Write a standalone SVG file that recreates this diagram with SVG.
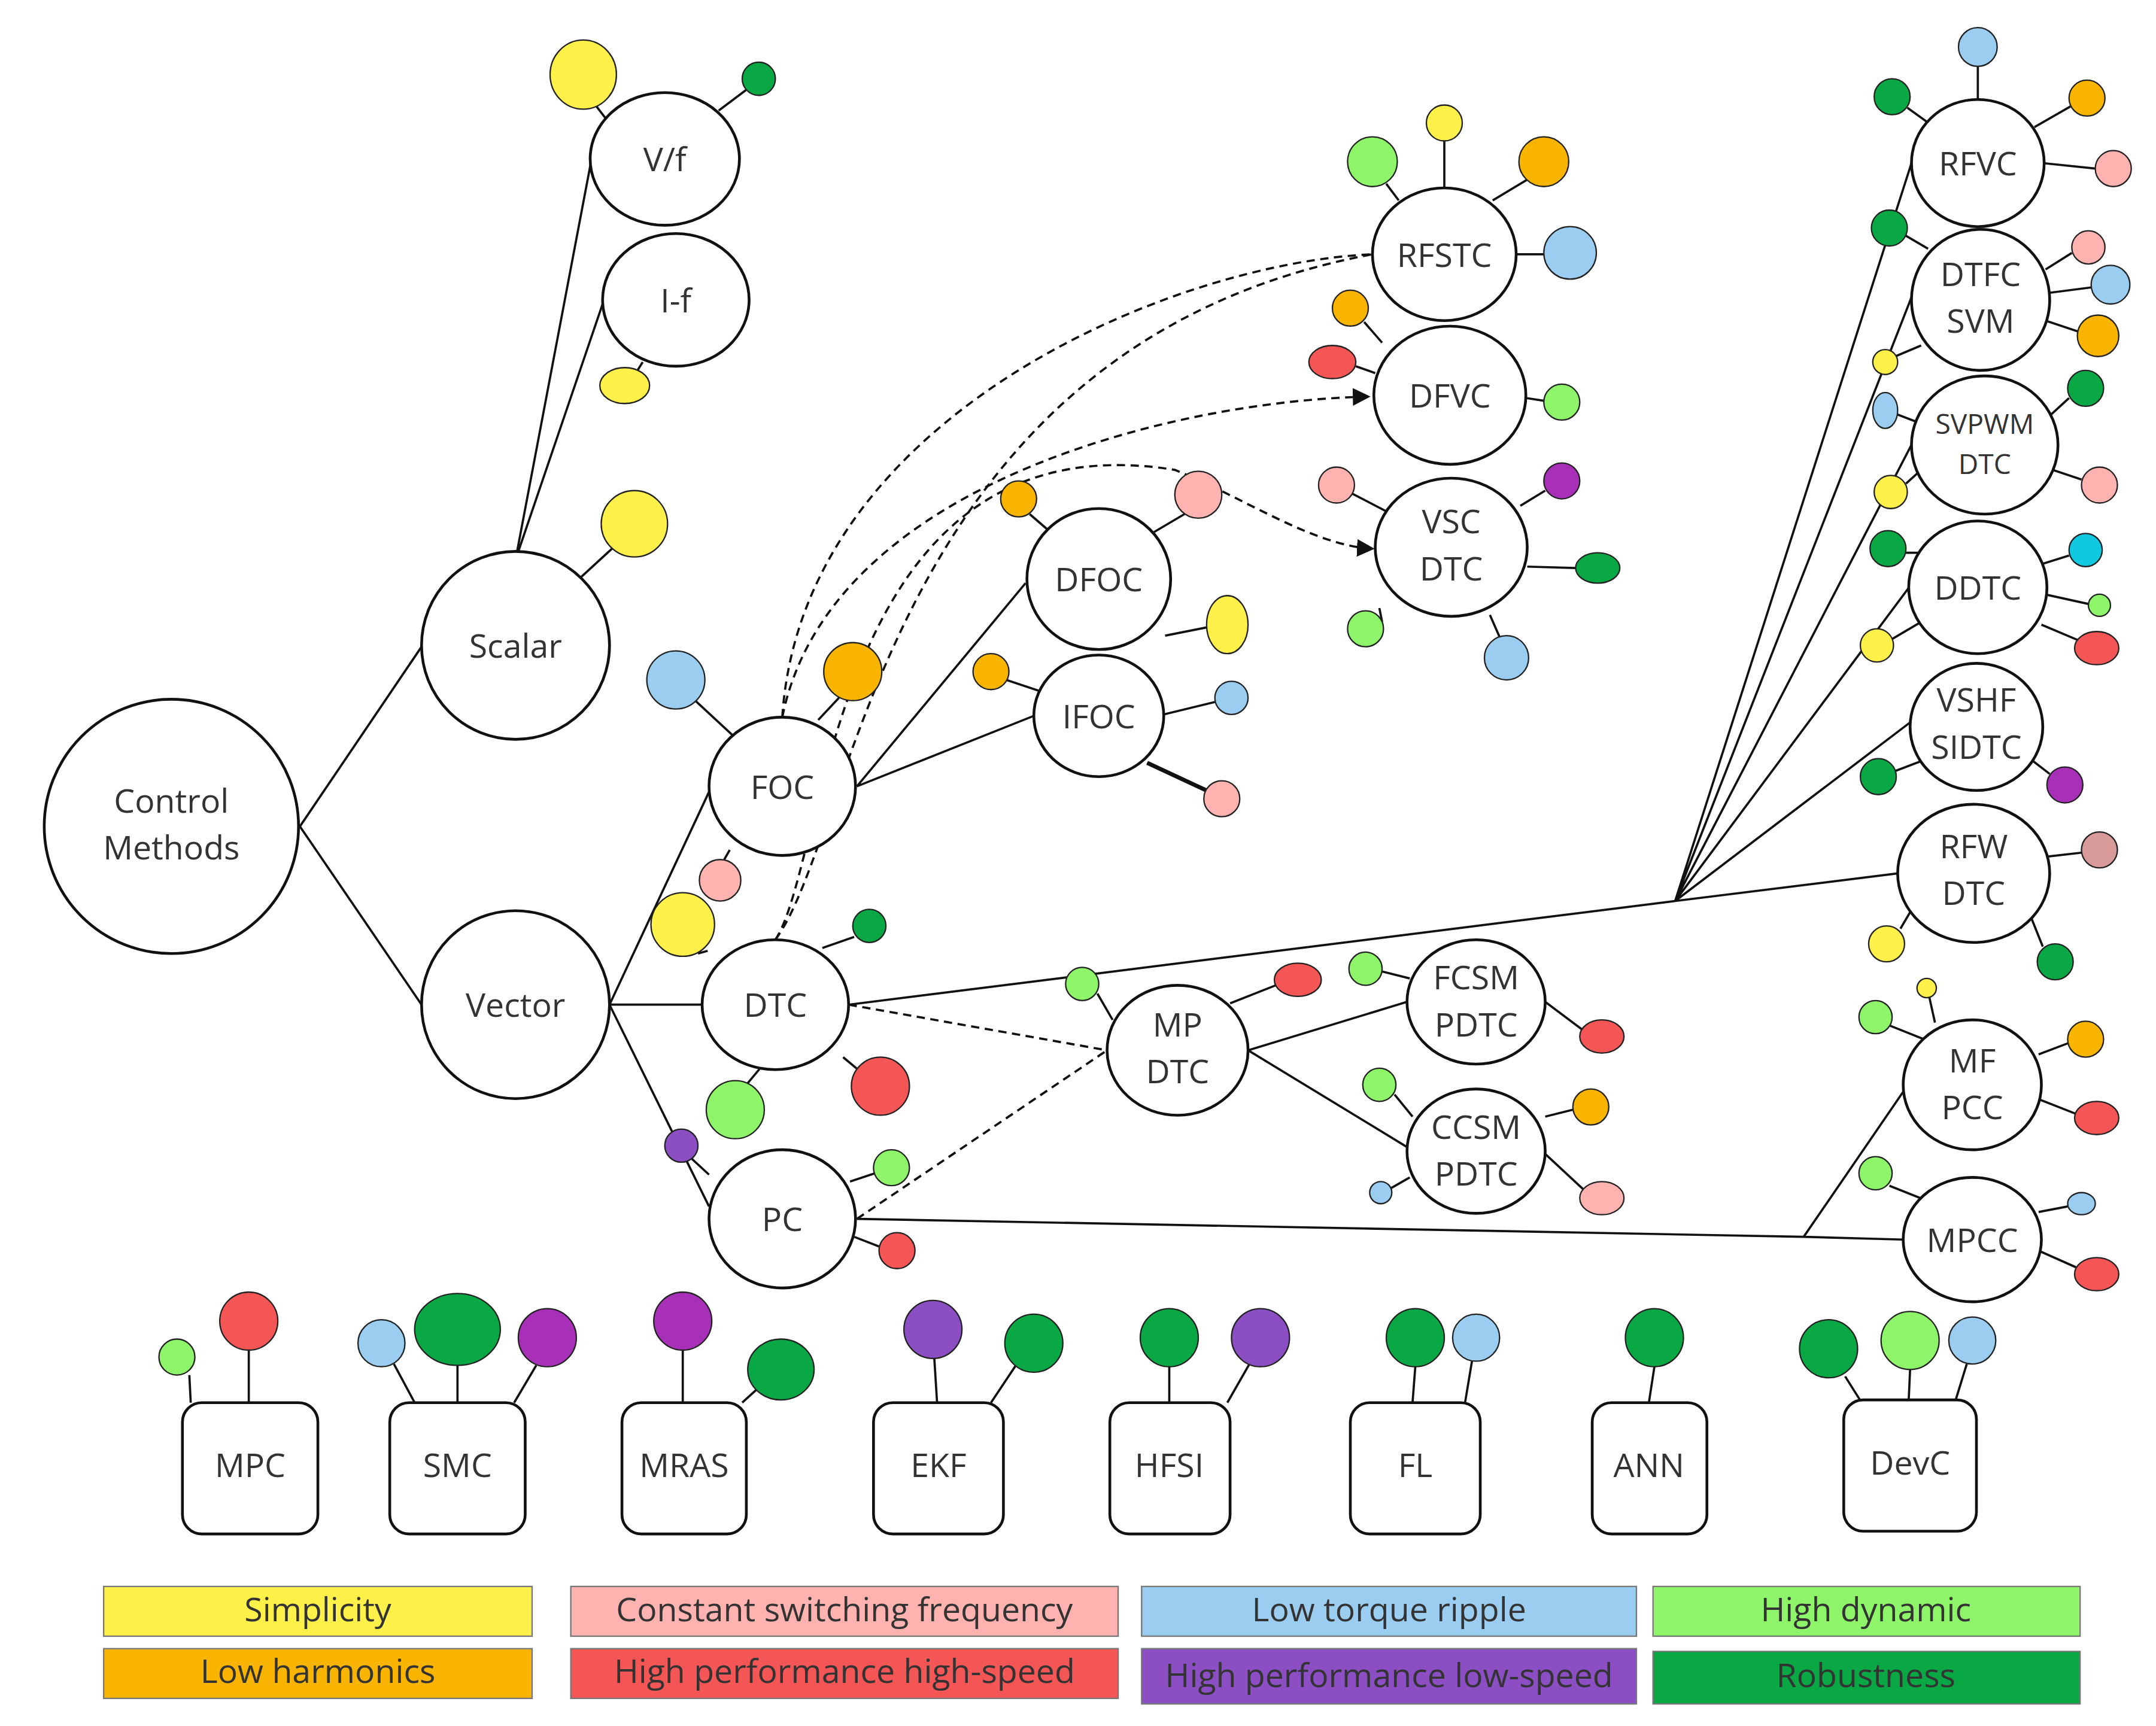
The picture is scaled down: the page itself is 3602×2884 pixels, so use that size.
<svg xmlns="http://www.w3.org/2000/svg" width="3602" height="2884" viewBox="0 0 3602 2884">
<style>
.n{fill:#fff;stroke:#111;stroke-width:2}
.b{fill:#fff;stroke:#111;stroke-width:2}
.l{stroke:#111;stroke-width:1.6;fill:none}
.d{stroke:#111;stroke-width:1.6;fill:none;stroke-dasharray:6 4}
.t{font-family:"Open Sans","Liberation Sans",sans-serif;font-size:24px;fill:#333;text-anchor:middle}
.lg{font-family:"Open Sans","Liberation Sans",sans-serif;font-size:24px;fill:#333;text-anchor:middle}
.c{stroke:#222;stroke-width:1}
.Y{fill:#fff04a}.O{fill:#f9b400}.P{fill:#ffb3b0}.R{fill:#f45555}.B{fill:#9acdf0}.U{fill:#8b4fc3}.G{fill:#8ef56a}.K{fill:#0aa845}.M{fill:#a82fb8}.C{fill:#10c8e0}
</style>
<defs><marker id="a" markerWidth="8" markerHeight="8" refX="7" refY="4" orient="auto"><path d="M0,0L8,4L0,8z" fill="#111"/></marker></defs>
<rect width="3602" height="2884" fill="#fff"/>
<g transform="scale(2.3091)">
<g id="connectors">
<path class="l" d="M217,598L305,468M217,598L305,727M373,405L428,115M373,405L436,220M441,727L513,573M441,727L508,727M441,727L513,873M620,569L742,422M620,569L748,518M614,727L1212,652M1212,652L1383,118M1212,652L1385,210M1212,652L1385,318M1212,652L1385,420M1212,652L1383,522M1212,652L1373,632M903,760L1018,725M903,760L1018,830M620,882L1305,895L1377,897M1305,895L1377,790"/>
<path class="d" d="M614,727L801,760M620,882L801,760"/>
<path class="d" d="M566,519C580,300 850,190 993,184"/>
<path class="d" d="M566,519C600,350 850,290 990,287" marker-end="url(#a)"/>
<path class="d" d="M561,680C620,600 640,250 993,184"/>
<path class="d" d="M561,680C600,620 600,300 850,340C900,360 950,395 993,397" marker-end="url(#a)"/>
<!-- stems -->
<path class="l" d="M440,88L430,75M520,80L540,65M465,262L460,270M420,418L445,395M530,532L503,507M592,521L607,505M528,615L524,622M512,688L505,690M595,686L618,678M610,765L622,775M550,773L540,785M513,850L500,838M615,855L633,849M618,895L636,902M760,385L745,372M835,385L857,372M843,460L873,454M752,500L728,492M842,517L879,508M830,552L873,572M1012,145L1003,133M1045,136L1045,102M1080,145L1105,130M1097,184L1117,184M1000,248L987,233M995,270L981,265M1104,288L1117,290M1003,370L978,357M1100,366L1118,355M1105,410L1140,411M1078,445L1085,461M998,440L1000,450M805,738L794,719M890,726L923,713M1020,708L1000,703M1118,725L1146,746M1022,808L1009,792M1118,808L1138,803M1118,835L1147,862M1020,852L1006,860M1431,72L1431,48M1394,88L1380,78M1472,92L1498,77M1478,118L1516,122M1395,180L1378,170M1480,195L1499,183M1482,212L1513,208M1480,232L1504,240M1390,250L1371,258M1484,300L1497,288M1485,340L1506,347M1390,340L1379,350M1386,305L1373,300M1392,400L1379,400M1478,408L1497,402M1479,430L1511,437M1477,452L1503,463M1390,450L1368,463M1392,550L1371,558M1470,550L1483,560M1480,620L1506,617M1385,655L1375,672M1470,665L1478,685M1392,752L1367,742M1400,740L1396,722M1475,763L1496,755M1474,795L1502,806M1392,868L1367,858M1475,877L1496,873M1475,905L1502,917M137,995L138,1015M180,977L180,1015M285,987L300,1015M331,988L331,1015M388,988L372,1015M494,977L494,1015M548,1005L537,1015M676,983L678,1015M735,988L717,1015M846,989L846,1015M904,987L888,1015M1024,989L1022,1015M1065,985L1060,1015M1197,989L1193,1015M1335,996L1347,1015M1382,991L1381,1013M1423,987L1415,1013"/>
<path d="M830,552L873,572" stroke="#111" stroke-width="3"/>
</g>
<g id="control"><circle class="n" cx="124" cy="598" r="92"/><text class="t" x="124" y="588">Control</text><text class="t" x="124" y="622">Methods</text></g>
<g id="scalar"><circle class="n" cx="373" cy="467" r="68"/><text class="t" x="373" y="476">Scalar</text></g>
<g id="vector"><circle class="n" cx="373" cy="727" r="68"/><text class="t" x="373" y="736">Vector</text></g>
<g id="vf"><ellipse class="n" cx="481" cy="115" rx="54" ry="48"/><text class="t" x="481" y="124">V/f</text></g>
<g id="if"><ellipse class="n" cx="489" cy="217" rx="53" ry="48"/><text class="t" x="489" y="226">I-f</text></g>
<g id="foc"><ellipse class="n" cx="566" cy="569" rx="53" ry="50"/><text class="t" x="566" y="578">FOC</text></g>
<g id="dtc"><ellipse class="n" cx="561" cy="727" rx="53" ry="47"/><text class="t" x="561" y="736">DTC</text></g>
<g id="pc"><ellipse class="n" cx="566" cy="882" rx="53" ry="50"/><text class="t" x="566" y="891">PC</text></g>
<g id="dfoc"><ellipse class="n" cx="795" cy="419" rx="52" ry="51"/><text class="t" x="795" y="428">DFOC</text></g>
<g id="ifoc"><ellipse class="n" cx="795" cy="518" rx="47" ry="44"/><text class="t" x="795" y="527">IFOC</text></g>
<g id="rfstc"><ellipse class="n" cx="1045" cy="184" rx="52" ry="48"/><text class="t" x="1045" y="193">RFSTC</text></g>
<g id="dfvc"><ellipse class="n" cx="1049" cy="286" rx="55" ry="50"/><text class="t" x="1049" y="295">DFVC</text></g>
<g id="vscdtc"><ellipse class="n" cx="1050" cy="396" rx="55" ry="50"/><text class="t" x="1050" y="386">VSC</text><text class="t" x="1050" y="420">DTC</text></g>
<g id="mpdtc"><ellipse class="n" cx="852" cy="760" rx="51" ry="47"/><text class="t" x="852" y="750">MP</text><text class="t" x="852" y="784">DTC</text></g>
<g id="fcsm"><ellipse class="n" cx="1068" cy="725" rx="50" ry="45"/><text class="t" x="1068" y="716">FCSM</text><text class="t" x="1068" y="750">PDTC</text></g>
<g id="ccsm"><ellipse class="n" cx="1068" cy="833" rx="50" ry="45"/><text class="t" x="1068" y="824">CCSM</text><text class="t" x="1068" y="858">PDTC</text></g>
<g id="rfvc"><ellipse class="n" cx="1431" cy="118" rx="48" ry="46"/><text class="t" x="1431" y="127">RFVC</text></g>
<g id="dtfc"><ellipse class="n" cx="1433" cy="217" rx="50" ry="51"/><text class="t" x="1433" y="207">DTFC</text><text class="t" x="1433" y="241">SVM</text></g>
<g id="svpwm"><ellipse class="n" cx="1436" cy="322" rx="53" ry="50"/><text class="t" x="1436" y="314" style="font-size:20px">SVPWM</text><text class="t" x="1436" y="343" style="font-size:20px">DTC</text></g>
<g id="ddtc"><ellipse class="n" cx="1431" cy="425" rx="50" ry="48"/><text class="t" x="1431" y="434">DDTC</text></g>
<g id="vshf"><ellipse class="n" cx="1430" cy="526" rx="48" ry="46"/><text class="t" x="1430" y="515">VSHF</text><text class="t" x="1430" y="549">SIDTC</text></g>
<g id="rfw"><ellipse class="n" cx="1428" cy="632" rx="55" ry="50"/><text class="t" x="1428" y="621">RFW</text><text class="t" x="1428" y="655">DTC</text></g>
<g id="mfpcc"><ellipse class="n" cx="1427" cy="785" rx="50" ry="47"/><text class="t" x="1427" y="776">MF</text><text class="t" x="1427" y="810">PCC</text></g>
<g id="mpcc"><ellipse class="n" cx="1427" cy="897" rx="50" ry="45"/><text class="t" x="1427" y="906">MPCC</text></g>
<g id="bubbles" class="c">
<ellipse class="Y" cx="422" cy="54" rx="24" ry="25"/><circle class="K" cx="549" cy="57" r="12"/><ellipse class="Y" cx="452" cy="279" rx="18" ry="13"/><circle class="Y" cx="459" cy="379" r="24"/>
<circle class="B" cx="489" cy="492" r="21"/><circle class="O" cx="617" cy="486" r="21"/><circle class="P" cx="521" cy="637" r="15"/>
<circle class="Y" cx="494" cy="669" r="23"/><circle class="K" cx="629" cy="670" r="12"/><circle class="R" cx="637" cy="786" r="21"/><circle class="G" cx="532" cy="803" r="21"/>
<circle class="U" cx="493" cy="829" r="12"/><circle class="G" cx="645" cy="845" r="13"/><circle class="R" cx="649" cy="905" r="13"/>
<circle class="O" cx="737" cy="361" r="13"/><circle class="P" cx="867" cy="358" r="17"/><ellipse class="Y" cx="888" cy="452" rx="15" ry="21"/>
<circle class="O" cx="717" cy="486" r="13"/><circle class="B" cx="891" cy="505" r="12"/><circle class="P" cx="884" cy="578" r="13"/>
<circle class="G" cx="993" cy="117" r="18"/><circle class="Y" cx="1045" cy="89" r="13"/><circle class="O" cx="1117" cy="117" r="18"/><circle class="B" cx="1136" cy="183" r="19"/>
<circle class="O" cx="977" cy="223" r="13"/><ellipse class="R" cx="964" cy="262" rx="17" ry="12"/><circle class="G" cx="1130" cy="291" r="13"/>
<circle class="P" cx="967" cy="351" r="13"/><circle class="M" cx="1130" cy="348" r="13"/><ellipse class="K" cx="1156" cy="411" rx="16" ry="11"/><circle class="B" cx="1090" cy="476" r="16"/><circle class="G" cx="988" cy="455" r="13"/>
<circle class="G" cx="783" cy="712" r="12"/><ellipse class="R" cx="939" cy="709" rx="17" ry="12"/>
<circle class="G" cx="988" cy="701" r="12"/><ellipse class="R" cx="1159" cy="750" rx="16" ry="12"/>
<circle class="G" cx="998" cy="785" r="12"/><circle class="O" cx="1151" cy="801" r="13"/><ellipse class="P" cx="1159" cy="867" rx="16" ry="12"/><circle class="B" cx="999" cy="863" r="8"/>
<circle class="B" cx="1431" cy="34" r="14"/><circle class="K" cx="1369" cy="70" r="13"/><circle class="O" cx="1510" cy="71" r="13"/><circle class="P" cx="1529" cy="122" r="13"/>
<circle class="K" cx="1367" cy="165" r="13"/><circle class="P" cx="1511" cy="179" r="12"/><circle class="B" cx="1527" cy="206" r="14"/><circle class="O" cx="1518" cy="243" r="15"/><circle class="Y" cx="1364" cy="262" r="9"/>
<circle class="K" cx="1509" cy="281" r="13"/><circle class="P" cx="1519" cy="351" r="13"/><circle class="Y" cx="1368" cy="356" r="12"/><ellipse class="B" cx="1364" cy="297" rx="9" ry="13"/>
<circle class="K" cx="1366" cy="397" r="13"/><circle class="C" cx="1509" cy="398" r="12"/><circle class="G" cx="1519" cy="438" r="8"/><ellipse class="R" cx="1517" cy="469" rx="16" ry="12"/><circle class="Y" cx="1358" cy="467" r="12"/>
<circle class="K" cx="1359" cy="562" r="13"/><circle class="M" cx="1494" cy="568" r="13"/>
<circle cx="1519" cy="615" r="13" fill="#d99a9a"/><circle class="Y" cx="1365" cy="683" r="13"/><circle class="K" cx="1487" cy="696" r="13"/>
<circle class="G" cx="1357" cy="736" r="12"/><circle class="Y" cx="1394" cy="715" r="7"/><circle class="O" cx="1509" cy="752" r="13"/><ellipse class="R" cx="1517" cy="809" rx="16" ry="12"/>
<circle class="G" cx="1357" cy="849" r="12"/><ellipse class="B" cx="1506" cy="871" rx="10" ry="8"/><ellipse class="R" cx="1517" cy="922" rx="16" ry="12"/>
<circle class="G" cx="128" cy="982" r="13"/><circle class="R" cx="180" cy="956" r="21"/>
<circle class="B" cx="276" cy="972" r="17"/><ellipse class="K" cx="331" cy="962" rx="31" ry="26"/><circle class="M" cx="396" cy="968" r="21"/>
<circle class="M" cx="494" cy="956" r="21"/><ellipse class="K" cx="565" cy="991" rx="24" ry="22"/>
<circle class="U" cx="675" cy="962" r="21"/><circle class="K" cx="748" cy="972" r="21"/>
<circle class="K" cx="846" cy="968" r="21"/><circle class="U" cx="912" cy="968" r="21"/>
<circle class="K" cx="1024" cy="968" r="21"/><circle class="B" cx="1068" cy="968" r="17"/>
<circle class="K" cx="1197" cy="968" r="21"/>
<circle class="K" cx="1323" cy="976" r="21"/><circle class="G" cx="1382" cy="970" r="21"/><circle class="B" cx="1427" cy="970" r="17"/>
</g>
<g id="mpc"><rect class="b" x="132" y="1015" width="98" height="95" rx="14"/><text class="t" x="181" y="1069">MPC</text></g>
<g id="smc"><rect class="b" x="282" y="1015" width="98" height="95" rx="14"/><text class="t" x="331" y="1069">SMC</text></g>
<g id="mras"><rect class="b" x="450" y="1015" width="90" height="95" rx="14"/><text class="t" x="495" y="1069">MRAS</text></g>
<g id="ekf"><rect class="b" x="632" y="1015" width="94" height="95" rx="14"/><text class="t" x="679" y="1069">EKF</text></g>
<g id="hfsi"><rect class="b" x="803" y="1015" width="87" height="95" rx="14"/><text class="t" x="846" y="1069">HFSI</text></g>
<g id="fl"><rect class="b" x="977" y="1015" width="94" height="95" rx="14"/><text class="t" x="1024" y="1069">FL</text></g>
<g id="ann"><rect class="b" x="1152" y="1015" width="83" height="95" rx="14"/><text class="t" x="1193" y="1069">ANN</text></g>
<g id="devc"><rect class="b" x="1334" y="1013" width="96" height="95" rx="14"/><text class="t" x="1382" y="1067">DevC</text></g>
<g id="legend" stroke="#777" stroke-width="1">
<rect class="Y" x="75" y="1148" width="310" height="36"/><text class="lg" x="230" y="1173" stroke="none">Simplicity</text>
<rect class="O" x="75" y="1193" width="310" height="36"/><text class="lg" x="230" y="1218" stroke="none">Low harmonics</text>
<rect class="P" x="413" y="1148" width="396" height="36"/><text class="lg" x="611" y="1173" stroke="none">Constant switching frequency</text>
<rect class="R" x="413" y="1193" width="396" height="36"/><text class="lg" x="611" y="1218" stroke="none">High performance high-speed</text>
<rect class="B" x="826" y="1148" width="358" height="36"/><text class="lg" x="1005" y="1173" stroke="none">Low torque ripple</text>
<rect class="U" x="826" y="1193" width="358" height="40"/><text class="lg" x="1005" y="1221" stroke="none">High performance low-speed</text>
<rect class="G" x="1196" y="1148" width="309" height="36"/><text class="lg" x="1350" y="1173" stroke="none">High dynamic</text>
<rect class="K" x="1196" y="1195" width="309" height="38"/><text class="lg" x="1350" y="1221" stroke="none">Robustness</text>
</g>
</g>
</svg>
